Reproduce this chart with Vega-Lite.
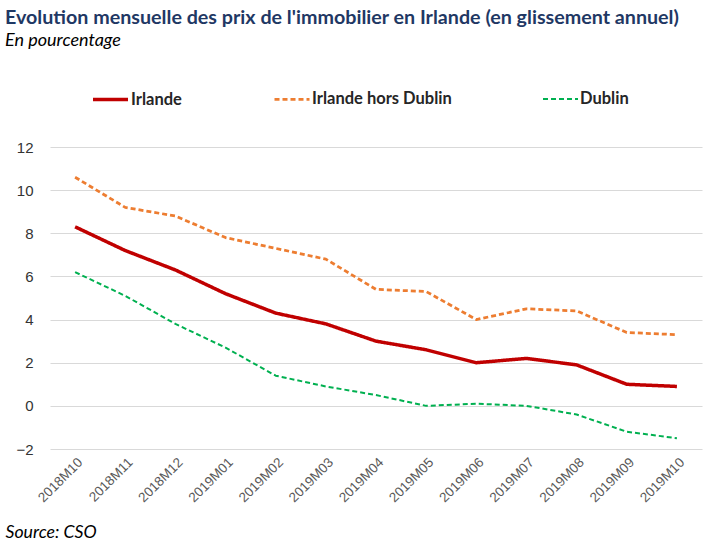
{
  "$schema": "https://vega.github.io/schema/vega-lite/v6.json",
  "width": 652,
  "height": 302,
  "autosize": {"type": "none"},
  "padding": {"left": 50, "top": 147, "right": 20, "bottom": 96},
  "background": "white",
  "title": {
    "text": "Evolution mensuelle des prix de l'immobilier en Irlande (en glissement annuel)",
    "subtitle": "En pourcentage",
    "anchor": "start",
    "frame": "group",
    "dx": -45,
    "font": "Lato",
    "fontSize": 19.7,
    "fontWeight": "bold",
    "color": "#1F3864",
    "subtitleFont": "Lato",
    "subtitleFontSize": 18,
    "subtitleFontStyle": "italic",
    "subtitleColor": "#000000",
    "subtitlePadding": 4,
    "offset": 30
  },
  "data": {
    "values": [
      {"month": "2018M10", "series": "Irlande", "value": 8.3},
      {"month": "2018M11", "series": "Irlande", "value": 7.2},
      {"month": "2018M12", "series": "Irlande", "value": 6.3},
      {"month": "2019M01", "series": "Irlande", "value": 5.2},
      {"month": "2019M02", "series": "Irlande", "value": 4.3},
      {"month": "2019M03", "series": "Irlande", "value": 3.8},
      {"month": "2019M04", "series": "Irlande", "value": 3.0},
      {"month": "2019M05", "series": "Irlande", "value": 2.6},
      {"month": "2019M06", "series": "Irlande", "value": 2.0},
      {"month": "2019M07", "series": "Irlande", "value": 2.2},
      {"month": "2019M08", "series": "Irlande", "value": 1.9},
      {"month": "2019M09", "series": "Irlande", "value": 1.0},
      {"month": "2019M10", "series": "Irlande", "value": 0.9},
      {"month": "2018M10", "series": "Irlande hors Dublin", "value": 10.6},
      {"month": "2018M11", "series": "Irlande hors Dublin", "value": 9.2},
      {"month": "2018M12", "series": "Irlande hors Dublin", "value": 8.8},
      {"month": "2019M01", "series": "Irlande hors Dublin", "value": 7.8},
      {"month": "2019M02", "series": "Irlande hors Dublin", "value": 7.3},
      {"month": "2019M03", "series": "Irlande hors Dublin", "value": 6.8},
      {"month": "2019M04", "series": "Irlande hors Dublin", "value": 5.4},
      {"month": "2019M05", "series": "Irlande hors Dublin", "value": 5.3},
      {"month": "2019M06", "series": "Irlande hors Dublin", "value": 4.0},
      {"month": "2019M07", "series": "Irlande hors Dublin", "value": 4.5},
      {"month": "2019M08", "series": "Irlande hors Dublin", "value": 4.4},
      {"month": "2019M09", "series": "Irlande hors Dublin", "value": 3.4},
      {"month": "2019M10", "series": "Irlande hors Dublin", "value": 3.3},
      {"month": "2018M10", "series": "Dublin", "value": 6.2},
      {"month": "2018M11", "series": "Dublin", "value": 5.1},
      {"month": "2018M12", "series": "Dublin", "value": 3.8},
      {"month": "2019M01", "series": "Dublin", "value": 2.7},
      {"month": "2019M02", "series": "Dublin", "value": 1.4},
      {"month": "2019M03", "series": "Dublin", "value": 0.9},
      {"month": "2019M04", "series": "Dublin", "value": 0.5},
      {"month": "2019M05", "series": "Dublin", "value": 0.0},
      {"month": "2019M06", "series": "Dublin", "value": 0.1},
      {"month": "2019M07", "series": "Dublin", "value": 0.0},
      {"month": "2019M08", "series": "Dublin", "value": -0.4},
      {"month": "2019M09", "series": "Dublin", "value": -1.2},
      {"month": "2019M10", "series": "Dublin", "value": -1.5}
    ]
  },
  "mark": {"type": "line", "strokeCap": "butt", "strokeJoin": "round"},
  "encoding": {
    "x": {
      "field": "month",
      "type": "ordinal",
      "scale": {"type": "point", "padding": 0.5},
      "axis": {
        "title": "Source: CSO",
        "titleFont": "Lato",
        "titleFontSize": 17.7,
        "titleFontStyle": "italic",
        "titleFontWeight": "normal",
        "titleColor": "#000000",
        "titleAnchor": "start",
        "titleAlign": "left",
        "titleBaseline": "alphabetic",
        "titleX": -45,
        "titleY": 88,
        "labelAngle": -45,
        "labelFont": "Liberation Sans",
        "labelFontSize": 13.5,
        "labelColor": "#595959",
        "labelPadding": 6,
        "domain": false,
        "ticks": false,
        "grid": false
      }
    },
    "y": {
      "field": "value",
      "type": "quantitative",
      "scale": {"domain": [-2, 12], "nice": false},
      "axis": {
        "title": null,
        "values": [-2, 0, 2, 4, 6, 8, 10, 12],
        "labelFont": "Liberation Sans",
        "labelFontSize": 15,
        "labelColor": "#333333",
        "labelPadding": 17,
        "domain": false,
        "ticks": false,
        "grid": true,
        "gridColor": "#d9d9d9",
        "gridWidth": 1
      }
    },
    "color": {
      "field": "series",
      "type": "nominal",
      "scale": {
        "domain": ["Irlande", "Irlande hors Dublin", "Dublin"],
        "range": ["#C00000", "#ED7D31", "#00B050"]
      },
      "legend": {"title": null}
    },
    "strokeDash": {
      "field": "series",
      "type": "nominal",
      "scale": {
        "domain": ["Irlande", "Irlande hors Dublin", "Dublin"],
        "range": [[1, 0], [5, 3], [5, 3]]
      },
      "legend": {"title": null}
    },
    "strokeWidth": {
      "field": "series",
      "type": "nominal",
      "scale": {
        "domain": ["Irlande", "Irlande hors Dublin", "Dublin"],
        "range": [3.5, 2, 2]
      },
      "legend": {"title": null}
    }
  },
  "config": {
    "view": {"stroke": null},
    "legend": {
      "orient": "none",
      "legendX": 41,
      "legendY": -67,
      "direction": "horizontal",
      "symbolType": "stroke",
      "symbolSize": 1225,
      "labelFont": "Lato",
      "labelFontSize": 16.5,
      "labelFontWeight": "bold",
      "labelColor": "#262626",
      "labelOffset": 1,
      "columnPadding": 87,
      "labelLimit": 300
    }
  }
}
